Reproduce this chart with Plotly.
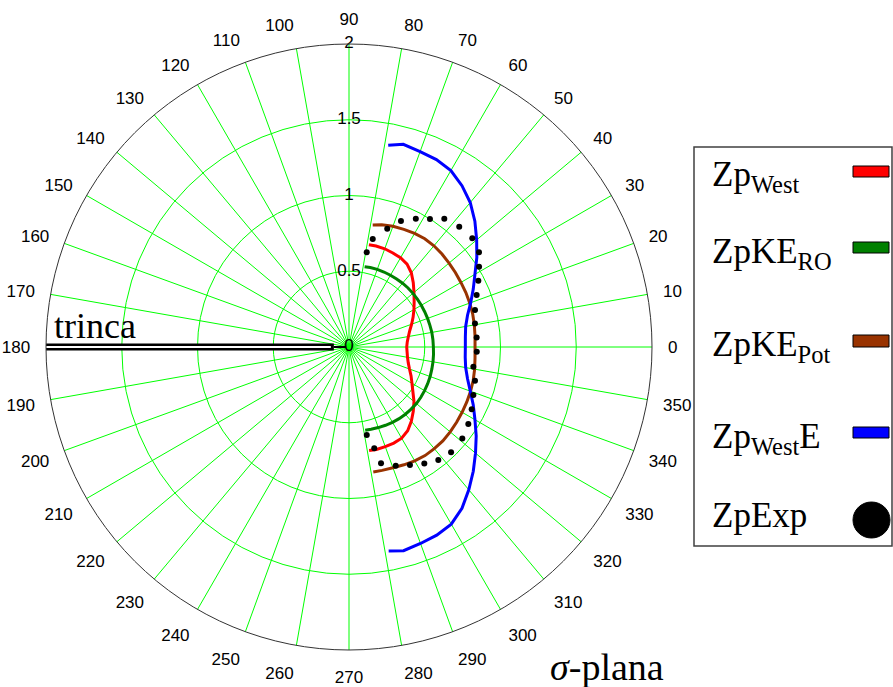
import plotly.graph_objects as go

W, H = 893, 687

# ---------------- data ----------------
theta_curve = [-79, -75, -70, -65, -60, -55, -50, -45, -40, -35, -30, -25, -20, -15, -10, -5,
               0, 5, 10, 15, 20, 25, 30, 35, 40, 45, 50, 55, 60, 65, 70, 75, 79]

zp_west = [0.696, 0.70, 0.70, 0.70, 0.695, 0.675, 0.64, 0.60, 0.56, 0.515, 0.48, 0.452, 0.425,
           0.405, 0.392, 0.385, 0.381, 0.386, 0.398, 0.415, 0.44, 0.467, 0.495, 0.525, 0.56,
           0.60, 0.64, 0.668, 0.68, 0.685, 0.69, 0.69, 0.688]

zp_ke_ro = [0.56, 0.562, 0.566, 0.57, 0.574, 0.577, 0.579, 0.58, 0.581, 0.579, 0.576, 0.573,
            0.57, 0.566, 0.563, 0.56, 0.557, 0.556, 0.555, 0.553, 0.552, 0.551, 0.551, 0.551,
            0.551, 0.551, 0.55, 0.548, 0.547, 0.546, 0.545, 0.543, 0.54]

zp_ke_pot = [0.84, 0.843, 0.848, 0.858, 0.868, 0.875, 0.876, 0.876, 0.872, 0.867, 0.862, 0.858,
             0.854, 0.849, 0.842, 0.835, 0.832, 0.835, 0.84, 0.845, 0.848, 0.851, 0.853, 0.857,
             0.862, 0.868, 0.872, 0.872, 0.866, 0.857, 0.848, 0.835, 0.82]

zp_west_e = [1.372, 1.392, 1.38, 1.37, 1.35, 1.30, 1.23, 1.16, 1.09, 1.025, 0.96, 0.905, 0.852,
             0.81, 0.782, 0.77, 0.768, 0.771, 0.782, 0.81, 0.855, 0.905, 0.96, 1.03, 1.10,
             1.175, 1.245, 1.30, 1.345, 1.365, 1.372, 1.385, 1.356]

theta_exp = [79.4, 77.6, 72.1, 67.6, 62.5, 57.7, 53.4, 47.5, 41.4, 36.1, 31.7, 27.1, 22.2, 16.4,
             10.6, 4.3, -2.1, -9.0, -15.0, -21.1, -26.9, -32.8, -38.9, -45.9, -51.7, -57.1,
             -62.7, -68.5, -74.6, -76.0, -78.6]
zp_exp = [0.636, 0.73, 0.821, 0.90, 0.955, 1.0, 1.055, 1.077, 1.085, 1.062, 1.009, 0.959, 0.91,
          0.867, 0.846, 0.845, 0.844, 0.831, 0.861, 0.88, 0.908, 0.937, 0.961, 0.968, 0.951,
          0.915, 0.877, 0.842, 0.796, 0.689, 0.593]

angle_ticks = list(range(0, 360, 10))
angle_labels = [str(a) for a in angle_ticks]
radial_ticks = [0, 0.5, 1, 1.5, 2]
radial_labels = ["0", "0.5", "1", "1.5", "2"]

crack_theta = 180
crack_r = [2, 0.1]

legend_names = ["Zp<sub>West</sub>", "ZpKE<sub>RO</sub>", "ZpKE<sub>Pot</sub>",
                "Zp<sub>West</sub>E", "ZpExp"]
colors = ["#ff0000", "#008000", "#993300", "#0000ff", "#000000"]

# ---------------- figure ----------------
fig = go.Figure()

# crack ("trinca")
fig.add_trace(go.Scatterpolar(r=crack_r, theta=[crack_theta] * 2, mode="lines",
                              line=dict(color="black", width=7), hoverinfo="skip"))
fig.add_trace(go.Scatterpolar(r=[crack_r[1], 0.02], theta=[crack_theta] * 2, mode="lines",
                              line=dict(color="black", width=2), hoverinfo="skip"))
fig.add_trace(go.Scatterpolar(r=[crack_r[0], crack_r[1] + 0.02], theta=[crack_theta] * 2,
                              mode="lines", line=dict(color="white", width=2), hoverinfo="skip"))

series = [zp_west, zp_ke_ro, zp_ke_pot, zp_west_e]
for vals, col in zip(series, colors[:4]):
    fig.add_trace(go.Scatterpolar(r=vals, theta=theta_curve, mode="lines",
                                  line=dict(color=col, width=3)))

fig.add_trace(go.Scatterpolar(r=zp_exp, theta=theta_exp, mode="markers",
                              marker=dict(color="black", size=6)))

# radial tick labels (centred on the 90° spoke)
fig.add_trace(go.Scatterpolar(r=radial_ticks, theta=[90] * len(radial_ticks), mode="text",
                              text=radial_labels, cliponaxis=False,
                              textfont=dict(family="Liberation Sans", size=17, color="black"),
                              hoverinfo="skip"))

cx, cy, R = 349, 347, 303
fig.update_layout(
    width=W, height=H,
    margin=dict(l=0, r=0, t=0, b=0),
    paper_bgcolor="white",
    showlegend=False,
    polar=dict(
        domain=dict(x=[(cx - R) / W, (cx + R) / W], y=[(H - cy - R) / H, (H - cy + R) / H]),
        bgcolor="white",
        radialaxis=dict(range=[0, 2], tickvals=radial_ticks[1:4], showticklabels=False,
                        ticks="", showline=False, gridcolor="#00ff00", gridwidth=1, angle=90),
        angularaxis=dict(tickvals=angle_ticks, ticktext=angle_labels, showticklabels=True,
                         ticks="outside", ticklen=12, tickcolor="rgba(0,0,0,0)",
                         tickfont=dict(family="Liberation Sans", size=17, color="black"),
                         direction="counterclockwise", rotation=0,
                         gridcolor="#00ff00", gridwidth=1,
                         showline=True, linecolor="#333333", linewidth=1),
    ),
)

def px(x):
    return x / W

def py(y):
    return 1 - y / H

shapes = []
annotations = []
# legend box
shapes.append(dict(type="rect", xref="paper", yref="paper", x0=px(694), x1=px(892),
                   y0=py(546), y1=py(147), line=dict(color="#404040", width=1.5)))
swatch_y = [(166, 177), (242, 253), (335, 347), (427, 438)]
for (y0, y1), col in zip(swatch_y, colors[:4]):
    shapes.append(dict(type="rect", xref="paper", yref="paper", x0=px(853), x1=px(889),
                       y0=py(y1), y1=py(y0), fillcolor=col, line=dict(color="black", width=1)))
shapes.append(dict(type="circle", xref="paper", yref="paper", x0=px(853), x1=px(890),
                   y0=py(538), y1=py(502), fillcolor="black", line=dict(color="black", width=1)))

text_y = [176, 253, 346, 438, 515]
for name, ty in zip(legend_names, text_y):
    annotations.append(dict(text=name, xref="paper", yref="paper", x=px(710), y=py(ty),
                            xanchor="left", yanchor="middle", showarrow=False,
                            font=dict(family="Liberation Serif", size=35, color="black")))

annotations.append(dict(text="trinca", xref="paper", yref="paper", x=px(52), y=py(326),
                        xanchor="left", yanchor="middle", showarrow=False,
                        font=dict(family="Liberation Serif", size=36, color="black")))
annotations.append(dict(text="<i>σ</i>-plana", xref="paper", yref="paper", x=px(607), y=py(667),
                        xanchor="center", yanchor="middle", showarrow=False,
                        font=dict(family="Liberation Serif", size=38, color="black")))

fig.update_layout(shapes=shapes, annotations=annotations)
fig.write_html("out.html")
